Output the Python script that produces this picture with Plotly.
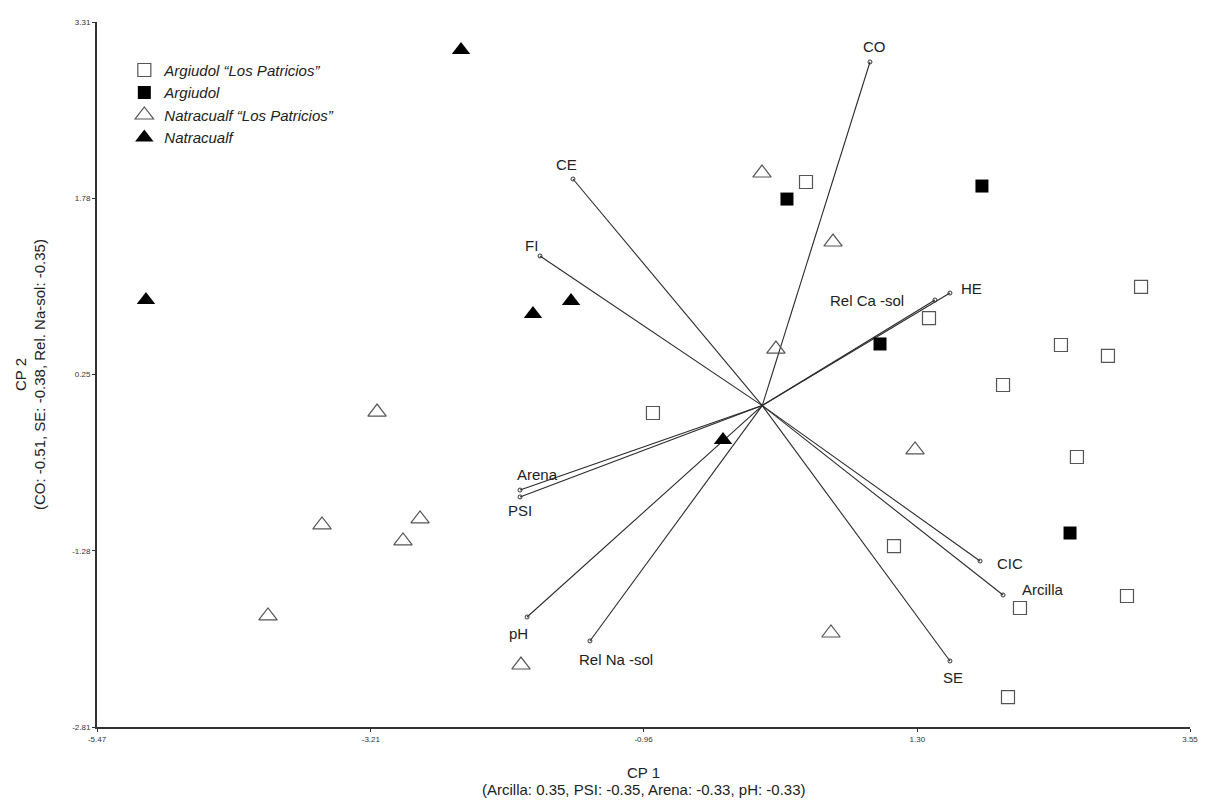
import plotly.graph_objects as go

# ---- data ----
arg_lp_x = [0.381, 1.396, -0.882, 2.007, 2.485, 2.873, 3.146, 2.617, 1.107, 2.147, 3.030, 2.048]
arg_lp_y = [1.921, 0.740, -0.084, 0.159, 0.506, 0.411, 1.010, -0.466, -1.239, -1.777, -1.673, -2.550]

arg_x = [0.224, 1.833, 0.992, 2.560]
arg_y = [1.773, 1.886, 0.515, -1.126]

nat_lp_x = [0.018, 0.604, 0.133, -3.159, -3.613, -2.804, -2.945, 1.281, -4.059, 0.587, -1.971]
nat_lp_y = [1.999, 1.400, 0.471, -0.076, -1.056, -1.004, -1.195, -0.405, -1.846, -1.994, -2.272]

nat_x = [-2.466, -5.066, -1.872, -1.558, -0.304]
nat_y = [3.067, 0.897, 0.775, 0.888, -0.319]

var_names = ["CO", "CE", "FI", "HE", "Rel Ca -sol", "Arena", "PSI", "pH",
             "Rel Na -sol", "SE", "CIC", "Arcilla"]
var_x = [0.909, -1.542, -1.814, 1.569, 1.445, -1.979, -1.979, -1.921, -1.402, 1.569, 1.817, 2.007]
var_y = [2.963, 1.947, 1.279, 0.957, 0.897, -0.753, -0.813, -1.855, -2.063, -2.237, -1.369, -1.664]

origin_x = 0.02
origin_y = -0.02

x_ticks = [-5.47, -3.21, -0.96, 1.30, 3.55]
y_ticks = [-2.81, -1.28, 0.25, 1.78, 3.31]

# label pixel offsets (style)
label_offsets = {
    "CO": (5, 15), "CE": (-6, 15), "FI": (-9, 10), "HE": (22, 5),
    "Rel Ca -sol": (-68, -1), "Arena": (17, 16), "PSI": (0, -14), "pH": (-9, -17),
    "Rel Na -sol": (26, -19), "SE": (3, -17), "CIC": (30, -2), "Arcilla": (39, 5),
}

FONT = "Arial, Liberation Sans, sans-serif"
fig = go.Figure()

# biplot vectors
lx, ly = [], []
for vx, vy in zip(var_x, var_y):
    lx += [origin_x, vx, None]
    ly += [origin_y, vy, None]
fig.add_trace(go.Scatter(x=lx, y=ly, mode="lines", line=dict(color="#2a2a2a", width=1.1),
                         showlegend=False, hoverinfo="skip"))
fig.add_trace(go.Scatter(x=var_x, y=var_y, mode="markers",
                         marker=dict(symbol="circle-open", size=4, color="#333333", line=dict(width=1)),
                         showlegend=False, hoverinfo="skip"))

gray = "#555555"
fig.add_trace(go.Scatter(x=arg_lp_x, y=arg_lp_y, mode="markers",
                         name="<i>Argiudol “Los Patricios”</i>",
                         marker=dict(symbol="square-open", size=13, color=gray, line=dict(width=1.2))))
fig.add_trace(go.Scatter(x=arg_x, y=arg_y, mode="markers", name="<i>Argiudol</i>",
                         marker=dict(symbol="square", size=13, color="black")))
fig.add_trace(go.Scatter(x=nat_lp_x, y=nat_lp_y, mode="markers",
                         name="<i>Natracualf “Los Patricios”</i>",
                         marker=dict(symbol="triangle-up-open", size=16, color=gray, line=dict(width=1.2))))
fig.add_trace(go.Scatter(x=nat_x, y=nat_y, mode="markers", name="<i>Natracualf</i>",
                         marker=dict(symbol="triangle-up", size=16, color="black")))

annotations = []
for n, vx, vy in zip(var_names, var_x, var_y):
    dx, dy = label_offsets[n]
    annotations.append(dict(x=vx, y=vy, text=n, showarrow=False, xshift=dx, yshift=dy,
                            font=dict(family=FONT, size=15, color="#222222")))

annotations += [
    dict(x=0.5, y=0, xref="paper", yref="paper", yshift=-56, text="CP 1", showarrow=False,
         font=dict(family=FONT, size=15, color="#222222")),
    dict(x=0.5, y=0, xref="paper", yref="paper", yshift=-73,
         text="(Arcilla: 0.35, PSI: -0.35, Arena: -0.33, pH: -0.33)", showarrow=False,
         font=dict(family=FONT, size=15, color="#222222")),
    dict(x=0, y=0.5, xref="paper", yref="paper", xshift=-87, text="CP 2", textangle=-90,
         showarrow=False, font=dict(family=FONT, size=15, color="#222222")),
    dict(x=0, y=0.5, xref="paper", yref="paper", xshift=-68,
         text="(CO: -0.51, SE: -0.38, Rel. Na-sol: -0.35)", textangle=-90,
         showarrow=False, font=dict(family=FONT, size=15, color="#222222")),
]

fig.update_layout(
    width=1215, height=803,
    margin=dict(l=97, r=25, t=22, b=76),
    plot_bgcolor="white", paper_bgcolor="white",
    font=dict(family=FONT, color="#222222"),
    annotations=annotations,
    legend=dict(x=0.025, y=0.955, xanchor="left", yanchor="top", bgcolor="rgba(0,0,0,0)",
                font=dict(family=FONT, size=15, color="#222222"), tracegroupgap=0,
                itemwidth=30),
    xaxis=dict(range=[-5.47, 3.55], tickvals=x_ticks, ticktext=[f"{v:.2f}" for v in x_ticks],
               showgrid=False, zeroline=False, showline=True, linecolor="#333333", linewidth=2,
               ticks="outside", ticklen=3, tickcolor="#333333",
               tickfont=dict(family=FONT, size=8, color="#333333")),
    yaxis=dict(range=[-2.81, 3.31], tickvals=y_ticks, ticktext=[f"{v:.2f}" for v in y_ticks],
               showgrid=False, zeroline=False, showline=True, linecolor="#333333", linewidth=2,
               ticks="outside", ticklen=3, tickcolor="#333333",
               tickfont=dict(family=FONT, size=8, color="#333333")),
)

fig.write_html("out.html")
